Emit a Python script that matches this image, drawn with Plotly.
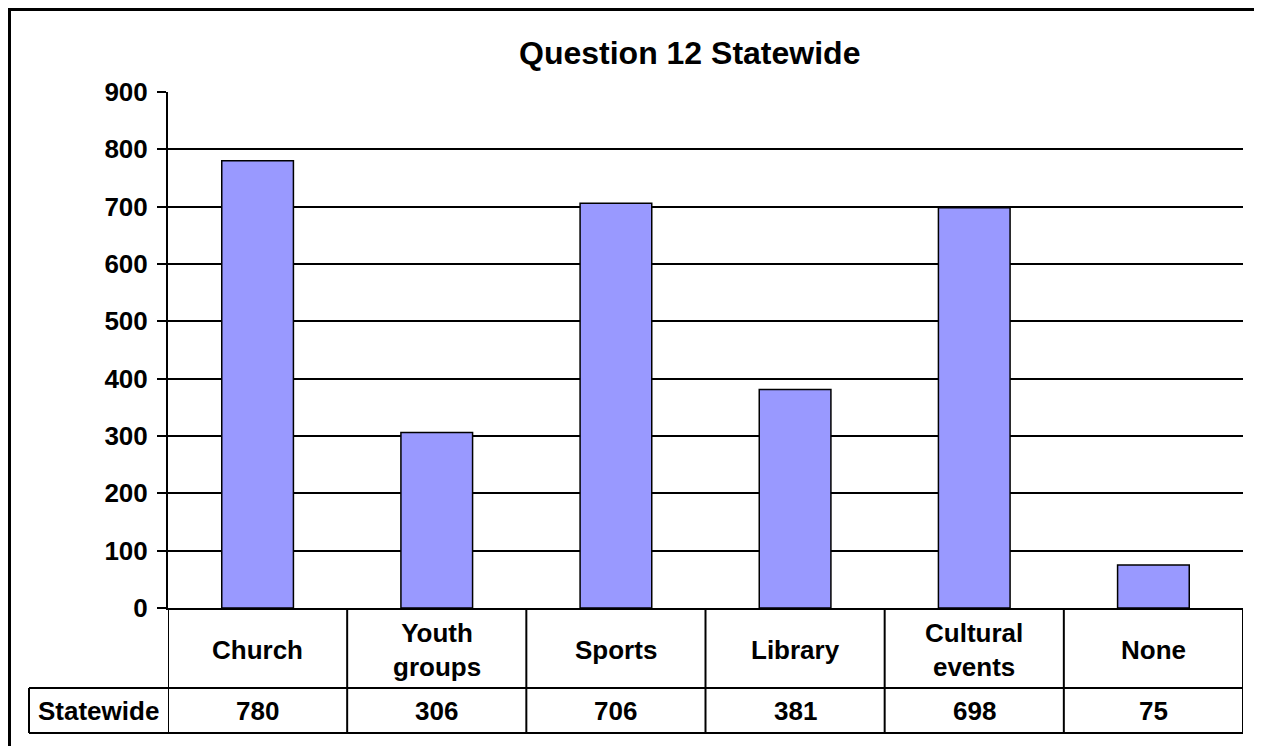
import plotly.graph_objects as go

CATEGORIES = ["Church", "Youth groups", "Sports", "Library", "Cultural events", "None"]
VALUES = [780, 306, 706, 381, 698, 75]
SERIES = "Statewide"
TITLE = "Question 12 Statewide"
Y_TICKS = [0, 100, 200, 300, 400, 500, 600, 700, 800, 900]

# the page body adds an 8px margin, so the figure is a bit smaller
OFF = 8
W, H = 1254, 738
L, R, T, B = 160, 19, 84, 138
FONT = "Liberation Sans, Arial, sans-serif"


def px_x(sx):
    return (sx - OFF - L) / (W - L - R)


def px_y(sy):
    return (H - B - (sy - OFF)) / (H - T - B)


fig = go.Figure(
    go.Bar(
        x=CATEGORIES,
        y=VALUES,
        marker=dict(color="#9999FF", line=dict(color="black", width=1.5)),
    )
)

shapes = []
line = dict(color="black", width=2)
# data table lines
shapes.append(dict(type="line", xref="paper", yref="paper",
                   x0=px_x(29), x1=1, y0=px_y(688), y1=px_y(688), line=line))
shapes.append(dict(type="line", xref="paper", yref="paper",
                   x0=px_x(29), x1=1, y0=px_y(733), y1=px_y(733), line=line))
shapes.append(dict(type="line", xref="paper", yref="paper",
                   x0=px_x(29), x1=px_x(29), y0=px_y(688), y1=px_y(733), line=line))
for i in range(len(CATEGORIES) + 1):
    shapes.append(dict(type="line", xref="x", yref="paper",
                       x0=i - 0.5, x1=i - 0.5, y0=0, y1=px_y(733), line=line))
# outer chart frame
shapes.append(dict(type="rect", xref="paper", yref="paper",
                   x0=px_x(9.5), x1=px_x(1300), y0=px_y(9.5), y1=px_y(800),
                   line=dict(color="black", width=3)))

annotations = [
    dict(text="<b>" + TITLE + "</b>", xref="paper", yref="paper",
         x=px_x(689), y=px_y(53), xanchor="center", yanchor="middle",
         showarrow=False, font=dict(size=32, family=FONT, color="black")),
    dict(text="<b>" + SERIES + "</b>", xref="paper", yref="paper",
         x=px_x(98), y=px_y(711), xanchor="center", yanchor="middle",
         showarrow=False, font=dict(size=26, family=FONT, color="black")),
]
for cat, val in zip(CATEGORIES, VALUES):
    annotations.append(dict(text="<b>" + cat.replace(" ", "<br>") + "</b>",
                            xref="x", yref="paper", x=cat, y=px_y(650),
                            xanchor="center", yanchor="middle", showarrow=False,
                            font=dict(size=26, family=FONT, color="black")))
    annotations.append(dict(text="<b>%d</b>" % val,
                            xref="x", yref="paper", x=cat, y=px_y(711),
                            xanchor="center", yanchor="middle", showarrow=False,
                            font=dict(size=26, family=FONT, color="black")))

fig.update_layout(
    width=W, height=H,
    margin=dict(l=L, r=R, t=T, b=B),
    paper_bgcolor="white", plot_bgcolor="white",
    showlegend=False, bargap=0.6,
    shapes=shapes, annotations=annotations,
    font=dict(family=FONT, color="black"),
)
fig.update_xaxes(range=[-0.5, len(CATEGORIES) - 0.5], showticklabels=False,
                 showgrid=False, showline=True, linecolor="black", linewidth=2,
                 ticks="")
fig.update_yaxes(range=[0, 900], tickvals=Y_TICKS,
                 ticktext=["<b>%d</b>" % v for v in Y_TICKS],
                 showgrid=True, gridcolor="black", gridwidth=2, zeroline=False,
                 showline=True, linecolor="black", linewidth=2,
                 ticks="outside", ticklen=9, tickwidth=2, tickcolor="black",
                 ticklabelstandoff=4,
                 tickfont=dict(size=26, family=FONT, color="black"))

fig.write_html("out.html")
